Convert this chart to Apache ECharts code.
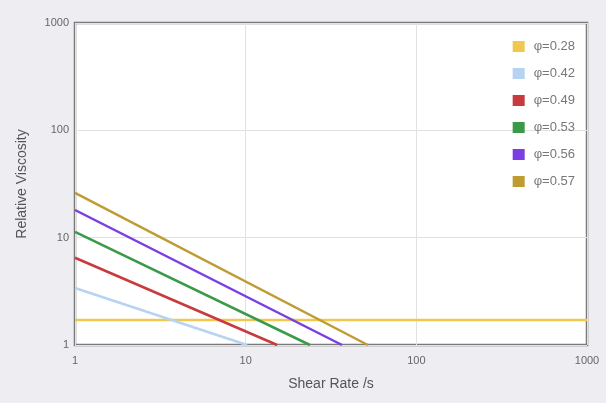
<!DOCTYPE html>
<html><head><meta charset="utf-8">
<script src="https://cdn.jsdelivr.net/npm/echarts@6/dist/echarts.min.js"></script>
<style>html,body{margin:0;padding:0;background:#eeeef2;}#c{width:606px;height:403px;}</style>
</head><body><div id="c"></div>
<script>
const seriesNames = ['φ=0.28','φ=0.42','φ=0.49','φ=0.53','φ=0.56','φ=0.57'];
const colors = ['#f0c850','#b6d3f2','#c93a3c','#3b9a4a','#7a3ee2','#bf9c32'];
const shearRates = [[1,1000],[1,10.2],[1,15.3],[1,23.8],[1,36.7],[1,52]];
const viscosities = [[1.71,1.71],[3.4,1],[6.5,1],[11.3,1],[18.1,1],[26.1,1]];
const xTicks = [1,10,100,1000];
const yTicks = [1,10,100,1000];

const chart = echarts.init(document.getElementById('c'));
chart.setOption({
  backgroundColor:'#eeeef2',
  animation:false,
  grid:{left:75,right:19,top:23,bottom:58,show:true,backgroundColor:'#ffffff',borderColor:'#7a7a7a',borderWidth:2.5},
  legend:{
    data:seriesNames, orient:'vertical', right:26, top:35, itemWidth:12, itemHeight:11, itemGap:14,
    icon:'rect', textStyle:{color:'#777',fontSize:13,fontFamily:'Liberation Sans',padding:[0,0,0,4]}
  },
  xAxis:{
    type:'log', logBase:10, min:xTicks[0], max:xTicks[xTicks.length-1],
    name:'Shear Rate /s', nameLocation:'middle', nameGap:32,
    nameTextStyle:{color:'#555',fontSize:14,fontFamily:'Liberation Sans'},
    axisLine:{show:false}, axisTick:{show:false},
    axisLabel:{color:'#666',fontSize:11,fontFamily:'Liberation Sans',margin:10,formatter:v=>String(v)},
    splitLine:{show:true,lineStyle:{color:'#e2e2e2',width:1}}
  },
  yAxis:{
    type:'log', logBase:10, min:yTicks[0], max:yTicks[yTicks.length-1],
    name:'Relative Viscosity', nameLocation:'middle', nameGap:46,
    nameTextStyle:{color:'#555',fontSize:14,fontFamily:'Liberation Sans'},
    axisLine:{show:false}, axisTick:{show:false},
    axisLabel:{color:'#666',fontSize:11,fontFamily:'Liberation Sans',margin:6,formatter:v=>String(v)},
    splitLine:{show:true,lineStyle:{color:'#e2e2e2',width:1}}
  },
  series: seriesNames.map((n,i)=>({
    name:n, type:'line', showSymbol:false, symbol:'none', color:colors[i],
    lineStyle:{width:2.5,color:colors[i]},
    data: shearRates[i].map((x,j)=>[x, viscosities[i][j]]),
    z: 2+i
  }))
});
</script></body></html>
